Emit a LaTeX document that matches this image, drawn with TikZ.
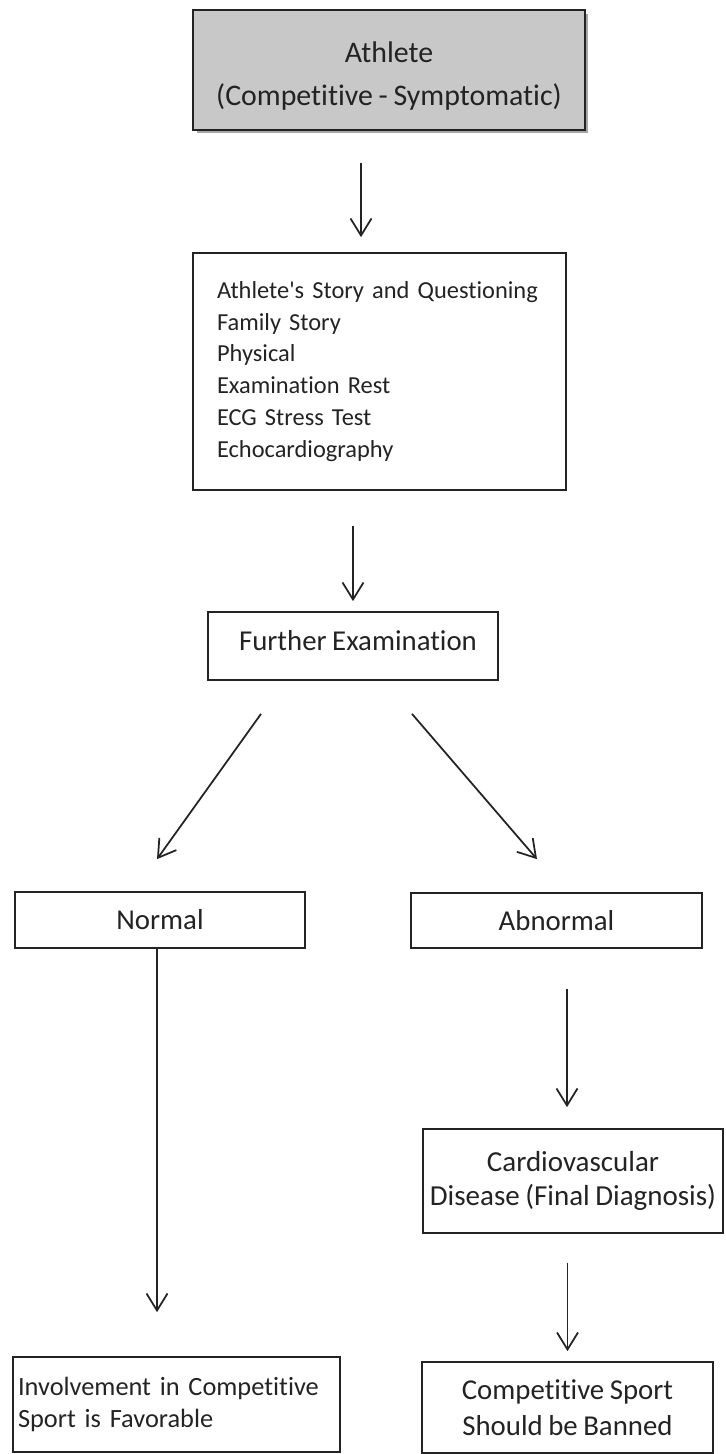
\documentclass[tikz,border=0pt]{standalone}
\usepackage{fontspec}
\setmainfont{Carlito}[Ligatures={NoCommon}, WordSpace={0.85}]
\usepackage{tikz}
\usetikzlibrary{arrows.meta, positioning, shadows, calc}
\usepackage{xcolor}
\definecolor{boxgray}{RGB}{200,200,200}
\definecolor{inkgray}{RGB}{35,35,35}

\begin{document}
\begin{tikzpicture}[
    x=0.02cm, y=-0.02cm,
    athletebox/.style = {draw=inkgray, line width=1pt, fill=boxgray, align=center, text=inkgray, inner sep=0pt,
        font=\fontsize{17}{24.4}\selectfont, drop shadow={shadow xshift=0.07cm, shadow yshift=-0.07cm, fill=black, opacity=0.35}},
    stepbox/.style = {draw=inkgray, line width=1pt, align=center, text=inkgray, inner sep=0pt, font=\fontsize{16.4}{20}\selectfont},
    listbox/.style = {draw=inkgray, line width=1pt, align=left, text=inkgray, inner ysep=0pt, font=\fontsize{13.9}{18.1}\selectfont},
    arr/.style = {draw=inkgray, line width=1pt, -{Straight Barb[length=0.34cm, width=0.42cm]}}
]
\useasboundingbox (0,0) rectangle (725,1454);

% Top of the chart
\node (athlete) [athletebox, minimum width=7.84cm, minimum height=2.4cm] at (389,70) {\rule{0pt}{19pt}Athlete\\ (Competitive - Symptomatic)};

% Examination list
\node (history) [listbox, inner xsep=0.48cm, text width=6.5cm, minimum height=4.74cm] at (379.5,371.5)
    {Athlete\textquotesingle s Story and Questioning\\ Family Story\\ Physical\\ Examination Rest\\ ECG Stress Test\\ Echocardiography\\[6pt]};
\node (further) [stepbox, minimum width=5.8cm, minimum height=1.36cm] at (353,646) {\hspace{0.2cm}Further Examination\rule[-6pt]{0pt}{6pt}};

% Branches
\node (normal) [stepbox, minimum width=5.8cm, minimum height=1.12cm] at (160,920) {Normal};
\node (abnormal) [stepbox, minimum width=5.82cm, minimum height=1.1cm] at (556.5,920.5) {Abnormal};
\node (cardio) [stepbox, minimum width=6cm, minimum height=2.08cm, font=\fontsize{16.5}{19.8}\selectfont] at (573,1181)
    {Cardiovascular\\ Disease (Final Diagnosis)};

% Outcomes
\node (banned) [stepbox, minimum width=5.82cm, minimum height=1.82cm, font=\fontsize{16.4}{20.4}\selectfont] at (567.5,1407.5)
    {Competitive Sport\\ Should be Banned};
\node (favorable) [listbox, inner xsep=0.1cm, text width=6.34cm, minimum height=1.9cm, font=\fontsize{15}{18.7}\selectfont] at (176.5,1404.5)
    {Involvement in Competitive\\ Sport is Favorable\\[4pt]};

% Connections
\draw [arr, shorten <=0.64cm, shorten >=0.3cm] ([xshift=-0.56cm]athlete.south) -- ([xshift=-0.56cm]athlete.south |- history.north);
\draw [arr, shorten <=0.7cm, shorten >=0.2cm] (further.north |- history.south) -- (further.north);

\draw [arr] ([xshift=-1.84cm, yshift=-0.66cm]further.south) -- ([xshift=-0.06cm, yshift=0.64cm]normal.north);
\draw [arr] ([xshift=1.18cm, yshift=-0.66cm]further.south) -- ([xshift=-0.39cm, yshift=0.66cm]abnormal.north);

\draw [arr, shorten >=0.88cm] ([xshift=-0.06cm]normal.south) -- ([xshift=-0.06cm]normal.south |- favorable.north);
\draw [arr, shorten <=0.8cm, shorten >=0.42cm] ([xshift=0.21cm]abnormal.south) -- ([xshift=0.21cm]abnormal.south |- cardio.north);
\draw [arr, shorten <=0.58cm, shorten >=0.2cm] (banned.north |- cardio.south) -- (banned.north);

\end{tikzpicture}
\end{document}
